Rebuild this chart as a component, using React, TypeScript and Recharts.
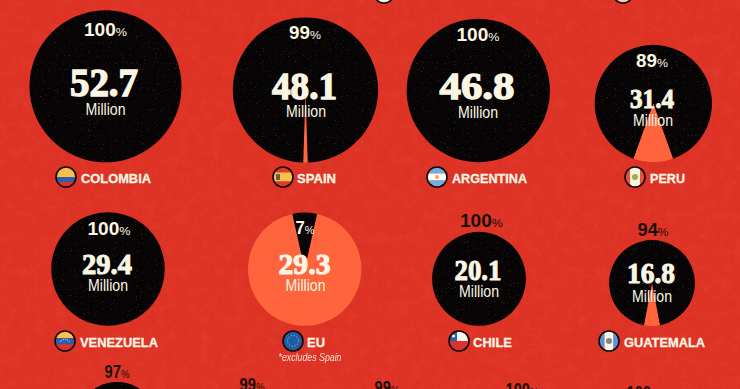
import React from "react";
import { PieChart, Pie, Cell } from "recharts";

const countries = ["COLOMBIA", "SPAIN", "ARGENTINA", "PERU", "VENEZUELA", "EU", "CHILE", "GUATEMALA", "", "", "", "", ""];
const population = [52.7, 48.1, 46.8, 31.4, 29.4, 29.3, 20.1, 16.8, 15.3, 0, 0, 0, 0];
const shareBlack = [100, 99, 100, 89, 100, 7, 100, 94, 97, 99, 99, 100, 100];
const valueLabels = ["52.7", "48.1", "46.8", "31.4", "29.4", "29.3", "20.1", "16.8"];

const RED = "#DE3124";
const ORANGE = "#FF643C";
const BLACK = "#060404";
const CREAM = "#FBF6E3";
const DARK = "#1C0E0B";
const K = 10.47;

// layout only (centres of circles, text baselines and widths)
const centers = [[105.5, 86.3], [305.5, 90], [478.3, 90.5], [653.3, 103.5], [108, 269], [304.7, 269.2], [479, 278.8], [652, 283], [117, 423]];
const pctPos = [[105.5, 36, 43, 1], [305, 38.5, 32, 1], [478, 40.5, 43, 1], [652, 67, 32, 1], [109, 235, 43, 1], [305, 233.5, 19, 1], [481.5, 226.5, 43, 0], [653, 235.5, 31, 0], [117, 378, 25, 0], [252, 391, 25, 0], [387, 394, 25, 0], [522, 396, 33, 0], [643, 399, 33, 0]];
const valPos = [[104, 96, 40, 68], [304.5, 99, 38, 65], [477, 99, 38, 75], [652, 107.5, 28, 44], [107, 273.5, 30, 50], [304.5, 273.5, 30, 52], [478, 279.5, 29, 47], [651, 283, 29, 48]];
const milPos = [[105.5, 115], [306, 117], [478, 118], [653, 126], [108, 291], [305.5, 291], [479, 297], [652, 302]];
const labelPos = [[81, 182.5, 70], [297, 182.5, 39], [452, 182.5, 75], [650, 182.5, 35], [80, 347, 78], [307, 347, 18], [473, 347, 39], [624, 347, 81]];
const flagPos = [[66, 177], [283, 177], [437, 177], [635, 177], [65, 341], [293, 341], [459, 341], [609, 341]];

const Flag = ({ i, x, y }: { i: number; x: number; y: number }) => {
  const id = `fl${i}`;
  const r = 10;
  const band = (c: string, yy: number, h: number) => <rect x={x - r} y={y + yy} width={2 * r} height={h} fill={c} />;
  const vband = (c: string, xx: number, w: number) => <rect x={x + xx} y={y - r} width={w} height={2 * r} fill={c} />;
  const contents = [
    <>{band("#F9BF4B", -10, 10)}{band("#2F5FA8", 0, 5)}{band("#DC3330", 5, 5)}</>,
    <>{band("#DD3A2A", -10, 5.5)}{band("#F8C04A", -4.5, 9)}{band("#DD3A2A", 4.5, 5.5)}<rect x={x - 7} y={y - 3} width={4} height={6} fill="#6b5a50" /></>,
    <>{band("#6FAEE2", -10, 6.5)}{band("#FFFFFF", -3.5, 7)}{band("#6FAEE2", 3.5, 6.5)}<circle cx={x} cy={y} r={2} fill="#F2A93B" /></>,
    <>{vband("#E8503A", -10, 5)}{vband("#FBF1DE", -5, 10)}{vband("#E8503A", 5, 5)}<circle cx={x} cy={y} r={3} fill="#9AAE4A" /></>,
    <>{band("#F9BF4B", -10, 7)}{band("#2F5FA8", -3, 6.5)}{band("#DC3330", 3.5, 6.5)}<path d={`M${x - 5} ${y + 1}A6 6 0 0 1 ${x + 5} ${y + 1}`} fill="none" stroke="#fff" strokeWidth={1} strokeDasharray="1 1" /></>,
    <><rect x={x - r} y={y - r} width={20} height={20} fill="#1D5CA8" /><circle cx={x} cy={y} r={5.5} fill="none" stroke="#F4CE4E" strokeWidth={1} strokeDasharray="1 1.9" /></>,
    <>{band("#FBF6EA", -10, 10)}{band("#DC3330", 0, 10)}<rect x={x - r} y={y - r} width={8} height={10} fill="#2F5FA8" /><circle cx={x - 5.5} cy={y - 5} r={1.5} fill="#fff" /></>,
    <>{vband("#5B94D8", -10, 5.5)}{vband("#FBF6EA", -4.5, 9)}{vband("#5B94D8", 4.5, 5.5)}<circle cx={x} cy={y} r={3} fill="#7c8a78" /></>,
  ];
  return (
    <g>
      <clipPath id={id}><circle cx={x} cy={y} r={r} /></clipPath>
      <g clipPath={`url(#${id})`}>{contents[i]}</g>
      <circle cx={x} cy={y} r={r} fill="none" stroke="#120A08" strokeWidth={1.6} />
    </g>
  );
};

export default function App() {
  return (
    <div style={{ position: "absolute", left: 0, top: 0, width: 740, height: 389, overflow: "hidden", background: RED }}>
      <svg width={740} height={389} style={{ position: "absolute", left: 0, top: 0 }}>
        <defs>
          <filter id="grain" x="0" y="0" width="100%" height="100%">
            <feTurbulence type="fractalNoise" baseFrequency="0.7" numOctaves="3" seed="4" />
            <feColorMatrix type="matrix" values="0 0 0 0 0.6  0 0 0 0 0.12  0 0 0 0 0.08  2.2 0 0 0 -1" />
          </filter>
          <filter id="blotch" x="0" y="0" width="100%" height="100%">
            <feTurbulence type="fractalNoise" baseFrequency="0.09" numOctaves="3" seed="9" />
            <feColorMatrix type="matrix" values="0 0 0 0 0.92  0 0 0 0 0.24  0 0 0 0 0.14  1.5 0 0 0 -0.65" />
          </filter>
        </defs>
        <rect width={740} height={389} filter="url(#blotch)" opacity={0.12} />
        <rect width={740} height={389} filter="url(#grain)" opacity={0.16} />
      </svg>
      <div style={{ position: "absolute", left: 0, top: 0 }}>
        <PieChart width={740} height={389} margin={{ top: 0, right: 0, bottom: 0, left: 0 }}>
          {centers.map((c, i) => {
            const other = 100 - shareBlack[i];
            const half = (other * 3.6) / 2;
            const data = [
              { name: "other", value: other },
              { name: "share", value: shareBlack[i] },
            ];
            return (
              <Pie
                key={i}
                data={data}
                dataKey="value"
                nameKey="name"
                cx={c[0]}
                cy={c[1]}
                innerRadius={0}
                outerRadius={K * Math.sqrt(population[i])}
                startAngle={-90 - half}
                endAngle={270 - half}
                stroke="none"
                isAnimationActive={false}
                legendType="none"
                label={false}
                labelLine={false}
              >
                <Cell fill={ORANGE} />
                <Cell fill={BLACK} />
              </Pie>
            );
          })}
        </PieChart>
      </div>
      <svg width={740} height={389} style={{ position: "absolute", left: 0, top: 0 }}>
        <defs>
          <filter id="speck" x="0" y="0" width="100%" height="100%">
            <feTurbulence type="fractalNoise" baseFrequency="0.85" numOctaves="2" seed="12" />
            <feColorMatrix type="matrix" values="0 0 0 0 0.72  0 0 0 0 0.16  0 0 0 0 0.1  7 0 0 0 -4.7" />
          </filter>
        </defs>
        <rect width={740} height={389} filter="url(#speck)" opacity={0.28} />

        {flagPos.map((p, i) => <Flag key={i} i={i} x={p[0]} y={p[1]} />)}
        <circle cx={384} cy={-7} r={10} fill="#FBF6EA" stroke="#120A08" strokeWidth={1.6} />
        <circle cx={623} cy={-7} r={10} fill="#F7C6BE" stroke="#120A08" strokeWidth={1.6} />

        {pctPos.map((p, i) => (
          <text
            key={`p${i}`}
            x={p[0]}
            y={p[1]}
            textAnchor="middle"
            textLength={p[2]}
            lengthAdjust="spacingAndGlyphs"
            fontFamily="Liberation Sans, Arial, sans-serif"
            fontWeight={700}
            fontSize={17.5}
            fill={p[3] ? CREAM : DARK}
          >
            {shareBlack[i]}
            <tspan fontSize={11.5} fontWeight={400}>%</tspan>
          </text>
        ))}
        {valueLabels.map((v, i) => (
          <text
            key={`v${i}`}
            x={valPos[i][0]}
            y={valPos[i][1]}
            textAnchor="middle"
            textLength={valPos[i][3]}
            lengthAdjust="spacingAndGlyphs"
            fontFamily="Liberation Serif, serif"
            fontWeight={700}
            fontSize={valPos[i][2]}
            fill={CREAM}
            stroke={CREAM}
            strokeWidth={valPos[i][2] / 28}
          >
            {v}
          </text>
        ))}
        {milPos.map((p, i) => (
          <text
            key={`m${i}`}
            x={p[0]}
            y={p[1]}
            textAnchor="middle"
            textLength={40}
            lengthAdjust="spacingAndGlyphs"
            fontFamily="Liberation Sans Narrow, Liberation Sans, sans-serif"
            fontSize={16.5}
            fill={CREAM}
          >
            Million
          </text>
        ))}
        {labelPos.map((p, i) => (
          <text
            key={`l${i}`}
            x={p[0]}
            y={p[1]}
            textLength={p[2]}
            lengthAdjust="spacingAndGlyphs"
            fontFamily="Liberation Sans, Arial, sans-serif"
            fontWeight={700}
            fontSize={13.5}
            fill={CREAM}
            stroke={CREAM}
            strokeWidth={0.3}
          >
            {countries[i]}
          </text>
        ))}
        <text x={310} y={361} textAnchor="middle" textLength={63} lengthAdjust="spacingAndGlyphs" fontFamily="Liberation Sans Narrow, Liberation Sans, sans-serif" fontStyle="italic" fontSize={10.5} fill={CREAM} opacity={0.9}>
          *excludes Spain
        </text>
      </svg>
    </div>
  );
}
